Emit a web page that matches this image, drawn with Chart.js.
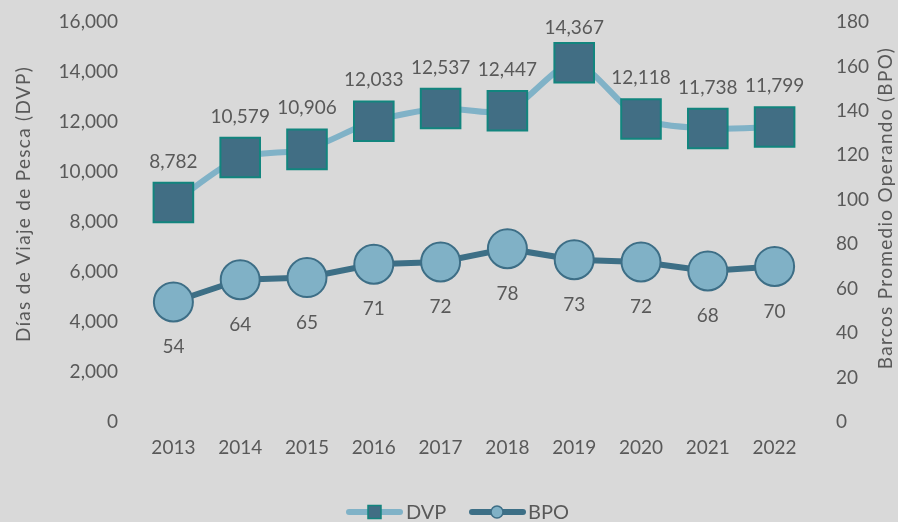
<!DOCTYPE html>
<html lang="es">
<head>
<meta charset="utf-8">
<script src="https://cdn.jsdelivr.net/npm/chart.js@4.4.1/dist/chart.umd.min.js"></script>
<style>
  html, body { margin: 0; padding: 0; background: #d9d9d9; }
  #wrap { width: 898px; height: 522px; }
</style>
</head>
<body>
<div id="wrap"><canvas id="chart"></canvas></div>
<script>
// Datos: días de viaje de pesca (DVP) y barcos promedio operando (BPO)
const years = ['2013', '2014', '2015', '2016', '2017', '2018', '2019', '2020', '2021', '2022'];
const dvp   = [8782, 10579, 10906, 12033, 12537, 12447, 14367, 12118, 11738, 11799];
const bpo   = [54, 64, 65, 71, 72, 78, 73, 72, 68, 70];
const dvpRange = { min: 0, max: 16000, step: 2000 };
const bpoRange = { min: 0, max: 180, step: 20 };

const TEXT = '#595959';
const FONT_FAMILY = 'Lato, "Open Sans", sans-serif';
const SQ_FILL = '#416e84', SQ_EDGE = '#12857e', DVP_LINE = '#80b2c7';
const CI_FILL = '#80b1c6', CI_EDGE = '#3d6e86', BPO_LINE = '#3d6f86';

const fmt = new Intl.NumberFormat('en-US');

// etiquetas de valor sobre / bajo cada punto (sin salirse por arriba)
const valueLabels = {
  id: 'valueLabels',
  afterDatasetsDraw(chart) {
    const ctx = chart.ctx;
    ctx.save();
    ctx.font = '19px ' + FONT_FAMILY;
    ctx.fillStyle = TEXT;
    ctx.textAlign = 'center';
    ctx.textBaseline = 'middle';
    chart.data.datasets.forEach((ds, i) => {
      const meta = chart.getDatasetMeta(i);
      meta.data.forEach((pt, j) => {
        const y = Math.max(pt.y + ds.labelOffset, chart.chartArea.top + 6);
        ctx.fillText(fmt.format(ds.data[j]), pt.x, y);
      });
    });
    ctx.restore();
  }
};

// títulos de ejes, girados
function drawVerticalTitle(ctx, text, x, y) {
  ctx.save();
  ctx.font = '19px ' + FONT_FAMILY;
  ctx.letterSpacing = '1.3px';
  ctx.fillStyle = TEXT;
  ctx.textAlign = 'center';
  ctx.textBaseline = 'middle';
  ctx.translate(x, y);
  ctx.rotate(-Math.PI / 2);
  ctx.fillText(text, 0, 0);
  ctx.restore();
}

const axisTitles = {
  id: 'axisTitles',
  afterDraw(chart) {
    drawVerticalTitle(chart.ctx, 'Días de Viaje de Pesca (DVP)', 24, 204);
    drawVerticalTitle(chart.ctx, 'Barcos Promedio Operando (BPO)', 886, 208);
  }
};

// leyenda inferior con línea + marcador
const lineLegend = {
  id: 'lineLegend',
  afterDraw(chart) {
    const ctx = chart.ctx;
    const y = 512;
    ctx.save();
    ctx.lineCap = 'round';
    ctx.lineWidth = 6;
    ctx.strokeStyle = DVP_LINE;
    ctx.beginPath(); ctx.moveTo(349, y); ctx.lineTo(400, y); ctx.stroke();
    ctx.fillStyle = SQ_FILL; ctx.strokeStyle = SQ_EDGE; ctx.lineWidth = 1.5;
    ctx.fillRect(368, y - 6.5, 13, 13); ctx.strokeRect(368, y - 6.5, 13, 13);

    ctx.lineWidth = 6;
    ctx.strokeStyle = BPO_LINE;
    ctx.beginPath(); ctx.moveTo(472, y); ctx.lineTo(523, y); ctx.stroke();
    ctx.fillStyle = CI_FILL; ctx.strokeStyle = CI_EDGE; ctx.lineWidth = 1.5;
    ctx.beginPath(); ctx.arc(497, y, 6, 0, Math.PI * 2); ctx.fill(); ctx.stroke();

    ctx.font = '20px ' + FONT_FAMILY;
    ctx.fillStyle = TEXT;
    ctx.textBaseline = 'middle';
    ctx.fillText('DVP', 406, y + 1);
    ctx.fillText('BPO', 528, y + 1);
    ctx.restore();
  }
};

// fija el ancho del eje y anula el relleno extra que añade la etiqueta superior
const fixY = width => s => {
  s.width = width;
  s.paddingTop = 0;
  s.paddingBottom = 0;
};

new Chart(document.getElementById('chart'), {
  type: 'line',
  data: {
    labels: years,
    datasets: [
      {
        label: 'DVP',
        data: dvp,
        yAxisID: 'yDvp',
        borderColor: DVP_LINE,
        borderWidth: 6,
        tension: 0.25,
        pointStyle: 'rect',
        pointRadius: 28,
        pointBackgroundColor: SQ_FILL,
        pointBorderColor: SQ_EDGE,
        pointBorderWidth: 2,
        labelOffset: -41,
      },
      {
        label: 'BPO',
        data: bpo,
        yAxisID: 'yBpo',
        borderColor: BPO_LINE,
        borderWidth: 6,
        tension: 0,
        pointStyle: 'circle',
        pointRadius: 19.5,
        pointBackgroundColor: CI_FILL,
        pointBorderColor: CI_EDGE,
        pointBorderWidth: 2,
        labelOffset: 45,
      },
    ],
  },
  options: {
    responsive: true,
    maintainAspectRatio: false,
    animation: false,
    layout: { autoPadding: false, padding: { top: 22, left: 0, right: 0, bottom: 0 } },
    plugins: {
      legend: { display: false },
      tooltip: { enabled: false },
    },
    scales: {
      x: {
        offset: true,
        grid: { display: false },
        border: { display: false },
        ticks: { color: TEXT, font: { size: 19, family: FONT_FAMILY }, padding: 6 },
        afterFit: s => { s.height = 100; },
      },
      yDvp: {
        position: 'left',
        min: dvpRange.min, max: dvpRange.max,
        grid: { display: false },
        border: { display: false },
        ticks: {
          stepSize: dvpRange.step,
          color: TEXT,
          font: { size: 19, family: FONT_FAMILY },
          padding: 14,
          callback: v => fmt.format(v),
        },
        afterFit: fixY(140),
      },
      yBpo: {
        position: 'right',
        min: bpoRange.min, max: bpoRange.max,
        grid: { display: false },
        border: { display: false },
        ticks: {
          stepSize: bpoRange.step,
          color: TEXT,
          font: { size: 19, family: FONT_FAMILY },
          padding: 20,
        },
        afterFit: fixY(90),
      },
    },
  },
  plugins: [valueLabels, axisTitles, lineLegend],
});
</script>
</body>
</html>
